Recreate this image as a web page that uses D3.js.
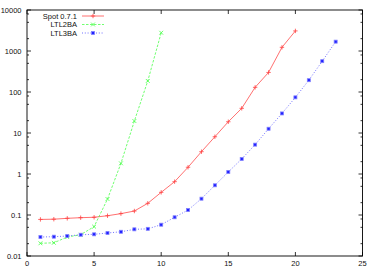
<!DOCTYPE html>
<html><head><meta charset="utf-8">
<script src="https://cdn.jsdelivr.net/npm/d3@7"></script>
<style>
html,body{margin:0;padding:0;background:#fff;}
svg text{font-family:"Liberation Sans",Arial,Helvetica,sans-serif;font-size:7.5px;fill:#111;}
</style></head>
<body><svg id="c" width="374" height="270"></svg>
<script>
const spotX = [1,2,3,4,5,6,7,8,9,10,11,12,13,14,15,16,17,18,19,20];
const spotY = [0.078,0.079,0.083,0.086,0.088,0.096,0.108,0.125,0.193,0.357,0.65,1.46,3.5,8.1,18.8,40,130,300,1230,3090];
const ltl2X = [1,2,3,4,5,6,7,8,9,10];
const ltl2Y = [0.0204,0.021,0.029,0.033,0.052,0.245,1.82,19.6,186,2790];
const ltl3X = [1,2,3,4,5,6,7,8,9,10,11,12,13,14,15,16,17,18,19,20,21,22,23];
const ltl3Y = [0.029,0.0296,0.0307,0.033,0.0338,0.0364,0.039,0.0447,0.046,0.058,0.088,0.132,0.25,0.53,1.12,2.33,5.2,12.7,30,74,194,565,1690];
const seriesNames = ["Spot 0.7.1","LTL2BA","LTL3BA"];
const xTicks = [0,5,10,15,20,25];
const yTicks = [0.01,0.1,1,10,100,1000,10000];
const yTickLabels = ["0.01","0.1","1","10","100","1000","10000"];

const svg = d3.select("#c");
const L=27, R=362.5, T=10, B=256;
const x = d3.scaleLinear().domain([0,25]).range([L,R]);
const y = d3.scaleLog().domain([0.01,10000]).range([B,T]);

const g = svg.append("g");
const minor=[];
yTicks.slice(0,-1).forEach(v=>{[2,5,8].forEach(m=>minor.push(v*m));});
const tk = g.append("g").attr("stroke","#000").attr("stroke-width",0.8);
yTicks.forEach(v=>{
  tk.append("line").attr("x1",L).attr("x2",L+4).attr("y1",y(v)).attr("y2",y(v));
  tk.append("line").attr("x1",R).attr("x2",R-4).attr("y1",y(v)).attr("y2",y(v));
});
minor.forEach(v=>{
  tk.append("line").attr("x1",L).attr("x2",L+2).attr("y1",y(v)).attr("y2",y(v));
  tk.append("line").attr("x1",R).attr("x2",R-2).attr("y1",y(v)).attr("y2",y(v));
});
xTicks.forEach(v=>{
  tk.append("line").attr("x1",x(v)).attr("x2",x(v)).attr("y1",B).attr("y2",B-4);
  tk.append("line").attr("x1",x(v)).attr("x2",x(v)).attr("y1",T).attr("y2",T+4);
});
yTicks.forEach((v,i)=>{
  g.append("text").attr("x",21.5).attr("y",y(v)).attr("dy","0.35em").attr("text-anchor","end").text(yTickLabels[i]);
});
xTicks.forEach(v=>{
  g.append("text").attr("x",x(v)).attr("y",B+9.5).attr("text-anchor","middle").text(v);
});
g.append("rect").attr("x",L).attr("y",T).attr("width",R-L).attr("height",B-T)
 .attr("fill","none").attr("stroke","#000").attr("stroke-width",0.9);

const colors=["#ff4040","#40ff40","#4040ff"];
const dashes=[null,"2.5,1.5","1,1.8"];
function marker(sel,type,cx,cy,col){
  const s=2.2;
  const p=sel.append("g").attr("stroke",col).attr("stroke-width",0.8);
  if(type===0){
    p.append("line").attr("x1",cx-s).attr("x2",cx+s).attr("y1",cy).attr("y2",cy);
    p.append("line").attr("x1",cx).attr("x2",cx).attr("y1",cy-s).attr("y2",cy+s);
  } else if(type===1){
    const d=1.9;
    p.append("line").attr("x1",cx-d).attr("x2",cx+d).attr("y1",cy-d).attr("y2",cy+d);
    p.append("line").attr("x1",cx-d).attr("x2",cx+d).attr("y1",cy+d).attr("y2",cy-d);
  } else {
    p.append("rect").attr("x",cx-1.5).attr("y",cy-1.5).attr("width",3).attr("height",3)
     .attr("fill","#2020ff").attr("stroke","#8080ff").attr("stroke-width",0.8);
  }
}
const data=[[spotX,spotY],[ltl2X,ltl2Y],[ltl3X,ltl3Y]];
const line=d3.line().x(d=>x(d[0])).y(d=>y(d[1]));
data.forEach((s,i)=>{
  const pts=s[0].map((v,k)=>[v,s[1][k]]);
  g.append("path").attr("d",line(pts)).attr("fill","none").attr("stroke",colors[i])
   .attr("stroke-width",0.75).attr("stroke-dasharray",dashes[i]);
  pts.forEach(p=>marker(g,i,x(p[0]),y(p[1]),colors[i]));
});
const ly=[16,24.5,33];
seriesNames.forEach((n,i)=>{
  g.append("text").attr("x",77).attr("y",ly[i]).attr("dy","0.35em").attr("text-anchor","end").text(n);
  g.append("line").attr("x1",82).attr("x2",104).attr("y1",ly[i]).attr("y2",ly[i])
   .attr("stroke",colors[i]).attr("stroke-width",0.75).attr("stroke-dasharray",dashes[i]);
  marker(g,i,93,ly[i],colors[i]);
});
</script></body></html>
